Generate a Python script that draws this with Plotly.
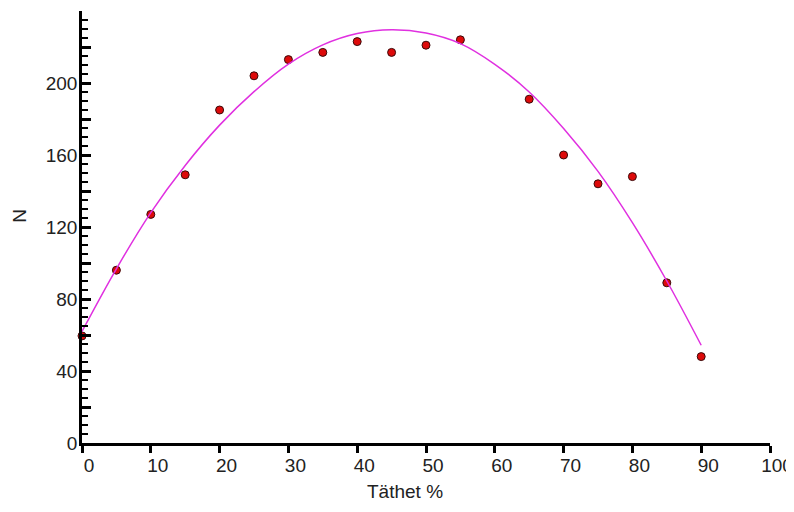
import plotly.graph_objects as go

# Observed data (Täthet %, N)
tathet = [0, 5, 10, 15, 20, 25, 30, 35, 40, 45, 50, 55, 65, 70, 75, 80, 85, 90]
n_obs = [59.5, 96, 127, 149, 185, 204, 213, 217, 223, 217, 221, 224, 191, 160, 144, 148, 89, 48]

# Fitted curve
curve_x = [0, 5, 10, 15, 20, 25, 30, 35, 40, 45, 50, 55, 60, 65, 70, 75, 80, 85, 90]
curve_y = [62, 96.8, 128, 154.2, 176.6, 195.2, 210.5, 221.2, 227.5, 229.6, 227.8, 221.9,
           210.4, 195, 174.7, 150.9, 122.4, 90, 54.3]

# Axis ticks
x_ticks = [0, 10, 20, 30, 40, 50, 60, 70, 80, 90, 100]
y_tickvals = [0, 20, 40, 60, 80, 100, 120, 140, 160, 180, 200, 220, 240]
y_ticktext = ["0", "", "40", "", "80", "", "120", "", "160", "", "200", "", ""]

FONT = "Liberation Sans, Arial, sans-serif"
TXT = "#222"

fig = go.Figure()
fig.add_trace(go.Scatter(
    x=tathet, y=n_obs, mode="markers",
    marker=dict(size=8, color="#dd0a0a", line=dict(color="#3a0a0a", width=1)),
    showlegend=False, cliponaxis=False,
))
fig.add_trace(go.Scatter(
    x=curve_x, y=curve_y, mode="lines", line_shape="spline",
    line=dict(color="#e030e0", width=1.5),
    showlegend=False,
))

# The page body adds an 8 px offset, so the figure is 786x504 and margins compensate.
fig.update_layout(
    width=786, height=504,
    margin=dict(l=73.5, r=24, t=2.7, b=69.3, autoexpand=False),
    paper_bgcolor="white", plot_bgcolor="white",
    font=dict(family=FONT, size=19, color=TXT),
    xaxis=dict(
        range=[0, 100], tickmode="array", tickvals=x_ticks,
        ticks="outside", ticklen=7, tickwidth=2.5, tickcolor="black",
        showline=True, linewidth=3, linecolor="black",
        showgrid=False, zeroline=False, automargin=False,
        tickfont=dict(size=19, color=TXT), ticklabelshift=7,
        ticklabelstandoff=-4,
    ),
    yaxis=dict(
        range=[0, 240], tickmode="array", tickvals=y_tickvals, ticktext=y_ticktext,
        ticks="inside", ticklen=9, tickwidth=2.5, tickcolor="black",
        minor=dict(tickmode="linear", tick0=0, dtick=5, ticks="inside",
                   ticklen=6, tickwidth=2, tickcolor="black"),
        showline=True, linewidth=2.5, linecolor="black",
        showgrid=False, zeroline=False, automargin=False,
        tickfont=dict(size=19, color=TXT),
        ticklabelstandoff=-2,
    ),
    annotations=[
        dict(text="Täthet %", xref="paper", yref="paper", x=0.47, y=-0.112,
             showarrow=False, font=dict(size=19, color=TXT),
             xanchor="center", yanchor="middle"),
        dict(text="N", xref="paper", yref="paper", x=-0.091, y=0.527,
             showarrow=False, font=dict(size=19, color=TXT), textangle=-90,
             xanchor="center", yanchor="middle"),
    ],
)

fig.write_html("out.html")
